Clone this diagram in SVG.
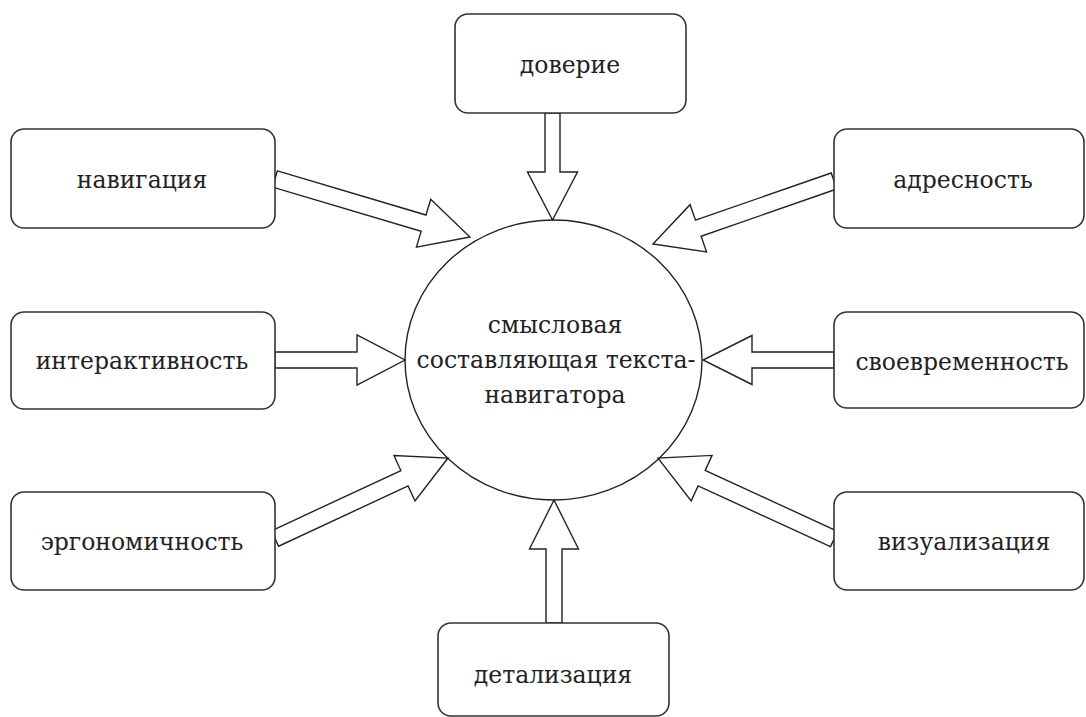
<svg xmlns="http://www.w3.org/2000/svg" width="1086" height="717" viewBox="0 0 1086 717">
<style>
.box{fill:#fff;stroke:#333;stroke-width:1.6}
text{font-family:"DejaVu Serif",serif;font-size:23.5px;fill:#222;text-anchor:middle}
.arr{fill:#fff;stroke:#222;stroke-width:1.4;stroke-linejoin:miter}
</style>
<rect width="1086" height="717" fill="#fff"/>
<g id="connectors">
<g transform="translate(552.5,113) rotate(90)"><polygon class="arr" points="0,-7.5 59,-7.5 59,-25 107,0 59,25 59,7.5 0,7.5"/></g>
<g transform="translate(554,623) rotate(-90)"><polygon class="arr" points="0,-8 74,-8 74,-24.5 123,0 74,24.5 74,8 0,8"/></g>
<g transform="translate(275,360)"><polygon class="arr" points="0,-8 82,-8 82,-25 130,0 82,25 82,8 0,8"/></g>
<g transform="translate(834,360) rotate(180)"><polygon class="arr" points="0,-8 82,-8 82,-24.5 131,0 82,24.5 82,8 0,8"/></g>
<g transform="translate(275,179) rotate(16.56)"><polygon class="arr" points="0,-8.5 155,-8.5 155,-25 203.4,0 155,25 155,8.5 0,8.5"/></g>
<g transform="translate(834,181) rotate(160.8)"><polygon class="arr" points="0,-8.5 143.7,-8.5 143.7,-25 191.7,0 143.7,25 143.7,8.5 0,8.5"/></g>
<g transform="translate(275,538.5) rotate(-24.95)"><polygon class="arr" points="0,-8.5 142.8,-8.5 142.8,-25 190.8,0 142.8,25 142.8,8.5 0,8.5"/></g>
<g transform="translate(834,539) rotate(-155.3)"><polygon class="arr" points="0,-8.5 145.7,-8.5 145.7,-25 193.7,0 145.7,25 145.7,8.5 0,8.5"/></g>
</g>
<g id="center">
<ellipse cx="553.5" cy="360" rx="148.5" ry="140" fill="none" stroke="#222" stroke-width="1.4"/>
<text x="555" y="333">смысловая</text>
<text x="556" y="368">составляющая текста-</text>
<text x="555" y="403">навигатора</text>
</g>
<g id="n-doverie"><rect class="box" x="455" y="14" width="231" height="99" rx="13"/><text x="570" y="73">доверие</text></g>
<g id="n-navigacia"><rect class="box" x="11" y="129" width="264" height="99" rx="13"/><text x="142" y="188">навигация</text></g>
<g id="n-adresnost"><rect class="box" x="834" y="129" width="250" height="99" rx="13"/><text x="963" y="188">адресность</text></g>
<g id="n-interaktivnost"><rect class="box" x="11" y="312" width="264" height="97" rx="13"/><text x="142" y="369">интерактивность</text></g>
<g id="n-svoevremennost"><rect class="box" x="834" y="312" width="250" height="96" rx="13"/><text x="962" y="370">своевременность</text></g>
<g id="n-ergonomichnost"><rect class="box" x="11" y="492" width="264" height="98" rx="13"/><text x="142" y="550">эргономичность</text></g>
<g id="n-vizualizacia"><rect class="box" x="834" y="492" width="250" height="98" rx="13"/><text x="964" y="550">визуализация</text></g>
<g id="n-detalizacia"><rect class="box" x="438" y="623" width="231" height="93" rx="13"/><text x="553" y="683">детализация</text></g>
</svg>
